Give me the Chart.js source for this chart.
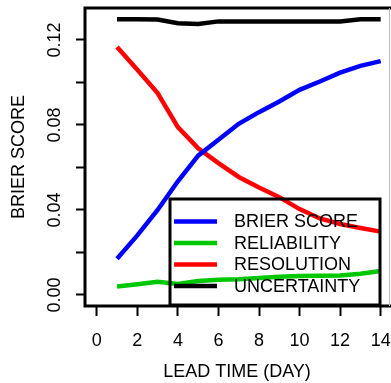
<!DOCTYPE html>
<html>
<head>
<meta charset="utf-8">
<script src="https://cdn.jsdelivr.net/npm/chart.js@4"></script>
<style>
  html, body { margin: 0; padding: 0; background: #fff; }
  #wrap { width: 391px; height: 383px; }
</style>
</head>
<body>
<div id="wrap"><canvas id="chart"></canvas></div>
<script>
// values
const leadDays = [1, 2, 3, 4, 5, 6, 7, 8, 9, 10, 11, 12, 13, 14];
const brierScore = [0.0170, 0.0280, 0.0400, 0.0535, 0.0655, 0.0730, 0.0805, 0.0860, 0.0910, 0.0965, 0.1004, 0.1046, 0.1078, 0.1100];
const reliability = [0.0040, 0.0050, 0.0062, 0.0052, 0.0066, 0.0071, 0.0074, 0.0080, 0.0086, 0.0089, 0.0090, 0.0092, 0.0100, 0.0113];
const resolution = [0.1167, 0.1060, 0.0950, 0.0790, 0.0690, 0.0620, 0.0555, 0.0505, 0.0460, 0.0404, 0.0360, 0.0334, 0.0315, 0.0298];
const uncertainty = [0.1297, 0.1297, 0.1296, 0.1278, 0.1275, 0.1287, 0.1287, 0.1287, 0.1287, 0.1287, 0.1287, 0.1287, 0.1297, 0.1297];

const seriesNames = ["BRIER SCORE", "RELIABILITY", "RESOLUTION", "UNCERTAINTY"];
const xTicks = [0, 2, 4, 6, 8, 10, 12, 14];
const yTicks = [0, 0.02, 0.04, 0.06, 0.08, 0.10, 0.12];
const yTickLabels = ["0.00", "", "0.04", "", "0.08", "", "0.12"];

const FONT = "'Liberation Sans', Arial, sans-serif";

function toPoints(values) {
  return leadDays.map((d, i) => ({ x: d, y: values[i] }));
}

function makeSet(label, values, color) {
  return {
    label: label,
    data: toPoints(values),
    borderColor: color,
    borderWidth: 4.5,
    pointRadius: 0,
    tension: 0,
    fill: false,
  };
}

// no extra room for overhanging tick labels, the plot box is fixed
function noPadding(scale) {
  scale.paddingTop = 0;
  scale.paddingBottom = 0;
  scale.paddingLeft = 0;
  scale.paddingRight = 0;
}

// box round the plot, like R's box()
const boxPlugin = {
  id: "box",
  afterDraw(chart) {
    const { ctx, chartArea: a } = chart;
    ctx.save();
    ctx.strokeStyle = "#000";
    ctx.lineWidth = 3;
    ctx.beginPath();
    ctx.moveTo(a.right + 2, a.top);
    ctx.lineTo(a.left, a.top);
    ctx.lineTo(a.left, a.bottom);
    ctx.lineTo(a.right + 2, a.bottom);
    ctx.stroke();
    ctx.strokeStyle = "#bbb";
    ctx.lineWidth = 1;
    ctx.beginPath();
    ctx.moveTo(a.right + 0.5, a.top);
    ctx.lineTo(a.right + 0.5, a.bottom);
    ctx.stroke();
    ctx.restore();
  },
};

// legend drawn inside the plot, bottom right, no fill
const legendPlugin = {
  id: "boxLegend",
  afterDraw(chart) {
    const { ctx } = chart;
    const left = 170, top = 199, right = 380, bottom = 305;
    ctx.save();
    ctx.strokeStyle = "#000";
    ctx.lineWidth = 3;
    ctx.strokeRect(left, top, right - left, bottom - top);
    ctx.font = "18px " + FONT;
    ctx.textBaseline = "middle";
    ctx.textAlign = "left";
    chart.data.datasets.forEach((ds, i) => {
      const y = 221.5 + i * 21.5;
      ctx.strokeStyle = ds.borderColor;
      ctx.lineWidth = 4.5;
      ctx.beginPath();
      ctx.moveTo(174, y);
      ctx.lineTo(217, y);
      ctx.stroke();
      ctx.fillStyle = "#000";
      ctx.fillText(ds.label, 234, y + 1);
    });
    ctx.restore();
  },
};

const config = {
  type: "line",
  data: {
    datasets: [
      makeSet(seriesNames[0], brierScore, "#0000ff"),
      makeSet(seriesNames[1], reliability, "#00c800"),
      makeSet(seriesNames[2], resolution, "#ff0000"),
      makeSet(seriesNames[3], uncertainty, "#000000"),
    ],
  },
  options: {
    responsive: true,
    maintainAspectRatio: false,
    animation: false,
    layout: { padding: { left: 0, top: 8, right: 2, bottom: 0 } },
    plugins: {
      legend: { display: false },
      tooltip: { enabled: false },
    },
    scales: {
      x: {
        type: "linear",
        min: -0.58,
        max: 14.41,
        afterBuildTicks: (scale) => {
          scale.ticks = xTicks.map((v) => ({ value: v }));
        },
        afterFit: (scale) => {
          scale.height = 77;
          noPadding(scale);
        },
        border: { display: false },
        grid: {
          drawOnChartArea: false,
          drawTicks: true,
          tickLength: 10,
          tickWidth: 2,
          tickColor: "#000",
        },
        ticks: {
          color: "#000",
          padding: 14,
          font: { family: FONT, size: 18 },
          callback: (v) => String(v),
        },
        title: {
          display: true,
          text: "LEAD TIME (DAY)",
          color: "#000",
          font: { family: FONT, size: 18 },
          padding: { top: 0, bottom: 0 },
        },
      },
      y: {
        type: "linear",
        min: -0.0052,
        max: 0.135,
        afterBuildTicks: (scale) => {
          scale.ticks = yTicks.map((v) => ({ value: v }));
        },
        afterFit: (scale) => {
          scale.width = 85;
          noPadding(scale);
        },
        border: { display: false },
        grid: {
          drawOnChartArea: false,
          drawTicks: true,
          tickLength: 9,
          tickWidth: 2,
          tickColor: "#000",
        },
        ticks: {
          color: "#000",
          padding: 3,
          minRotation: 90,
          maxRotation: 90,
          crossAlign: "center",
          font: { family: FONT, size: 18 },
          callback: (v, i) => yTickLabels[i],
        },
        title: {
          display: true,
          text: "BRIER SCORE",
          color: "#000",
          font: { family: FONT, size: 18 },
          padding: { top: 8, bottom: 0 },
        },
      },
    },
  },
  plugins: [boxPlugin, legendPlugin],
};

const chart = new Chart(document.getElementById("chart"), config);
</script>
</body>
</html>
